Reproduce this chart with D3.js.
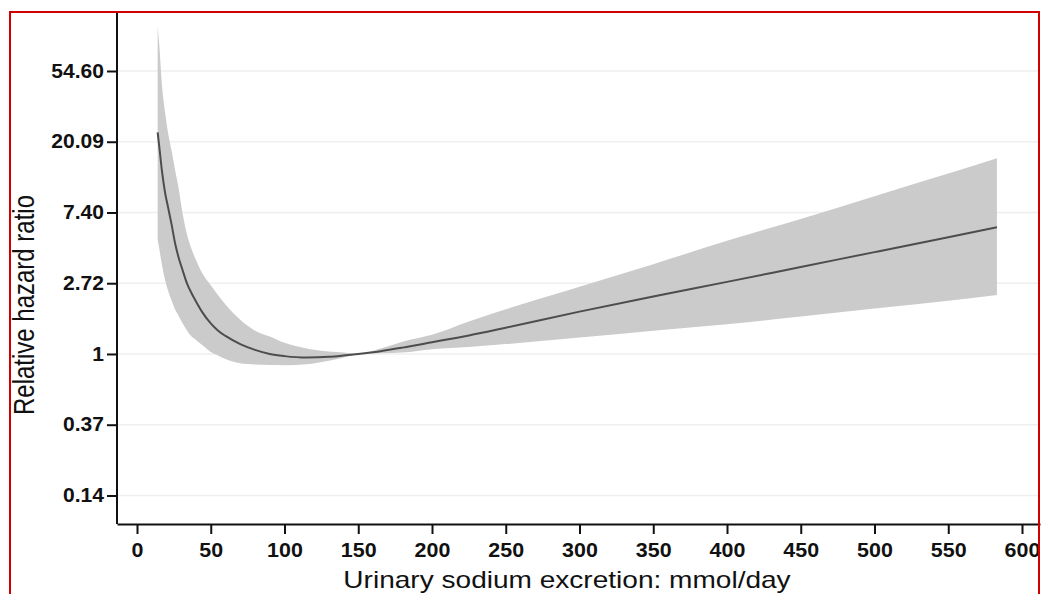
<!DOCTYPE html>
<html>
<head>
<meta charset="utf-8">
<script src="https://cdn.jsdelivr.net/npm/d3@7"></script>
<style>
  html, body { margin: 0; padding: 0; background: #fff; }
  svg { display: block; }
  text { font-family: "Liberation Sans", Arial, Helvetica, sans-serif; fill: #111; }
</style>
</head>
<body>
<svg id="chart" width="1041" height="594"></svg>
<script>
// ---- data ----
const sodium = [14, 15, 17, 19, 21, 23.5, 26, 28, 31, 34, 37, 40, 44, 50, 55, 60, 70, 80, 90, 100,
                115, 130, 140, 150, 165, 180, 200, 225, 250, 300, 350, 400, 450, 500, 550, 583];
const hazard = [22.9, 19.1, 13.1, 9.8, 8.0, 6.2, 4.7, 3.97, 3.25, 2.69, 2.36, 2.10, 1.82, 1.54, 1.39, 1.29, 1.15, 1.06, 1.0, 0.97,
                0.95, 0.96, 0.978, 1.0, 1.04, 1.094, 1.18, 1.30, 1.45, 1.82, 2.25, 2.77, 3.42, 4.22, 5.21, 5.99];
const upperCI = [102, 81, 44, 30.6, 22.9, 17.6, 13.2, 10.7, 7.2, 5.37, 4.39, 3.78, 3.16, 2.64, 2.29, 2.01, 1.62, 1.39, 1.28, 1.17,
                 1.08, 1.036, 1.02, 1.0, 1.08, 1.19, 1.31, 1.58, 1.88, 2.59, 3.56, 4.95, 6.75, 9.3, 12.8, 15.9];
const lowerCI = [5.0, 4.48, 3.49, 2.86, 2.46, 2.12, 1.86, 1.73, 1.54, 1.39, 1.28, 1.22, 1.14, 1.03, 0.98, 0.93, 0.877, 0.861, 0.855, 0.854,
                 0.865, 0.909, 0.951, 1.0, 1.01, 1.02, 1.07, 1.105, 1.15, 1.26, 1.39, 1.52, 1.70, 1.90, 2.12, 2.30];
const xTicks = [0, 50, 100, 150, 200, 250, 300, 350, 400, 450, 500, 550, 600];
const yTickValues = [0.1353, 0.3679, 1, 2.7183, 7.3891, 20.0855, 54.5982];
const yTickLabels = ["0.14", "0.37", "1", "2.72", "7.40", "20.09", "54.60"];
const xTitle = "Urinary sodium excretion: mmol/day";
const yTitle = "Relative hazard ratio";

// ---- layout ----
const svg = d3.select("#chart");
const plotLeft = 117, plotRight = 1040, plotTop = 12, plotBottom = 524;

const x = d3.scaleLinear().domain([-13.56, 612.2]).range([plotLeft, plotRight]);
const y = d3.scaleLog().domain([0.0904, 125.7]).range([plotBottom, plotTop]);

const rows = sodium.map((s, i) => ({ s, hr: hazard[i], lo: lowerCI[i], hi: upperCI[i] }));

// gridlines
svg.append("g").selectAll("line").data(yTickValues).join("line")
  .attr("x1", plotLeft).attr("x2", plotRight)
  .attr("y1", d => y(d)).attr("y2", d => y(d))
  .attr("stroke", "#efefef").attr("stroke-width", 1.5);

// CI band
svg.append("path").datum(rows)
  .attr("fill", "#cbcbcb")
  .attr("d", d3.area().x(d => x(d.s)).y0(d => y(d.lo)).y1(d => y(d.hi)).curve(d3.curveMonotoneX));

// estimate line
svg.append("path").datum(rows)
  .attr("fill", "none").attr("stroke", "#4d4d4d").attr("stroke-width", 2)
  .attr("d", d3.line().x(d => x(d.s)).y(d => y(d.hr)).curve(d3.curveMonotoneX));

// axes
const xAxis = svg.append("g").attr("transform", `translate(0,${plotBottom})`)
  .call(d3.axisBottom(x).tickValues(xTicks).tickSize(10).tickSizeOuter(0).tickPadding(9));
const yAxis = svg.append("g").attr("transform", `translate(${plotLeft},0)`)
  .call(d3.axisLeft(y).tickValues(yTickValues).tickFormat((d, i) => yTickLabels[i]).tickSize(10).tickSizeOuter(0).tickPadding(2));

[xAxis, yAxis].forEach(g => {
  g.select(".domain").attr("stroke", "#111").attr("stroke-width", 2);
  g.selectAll(".tick line").attr("stroke", "#111").attr("stroke-width", 2);
  g.selectAll(".tick text")
    .attr("fill", "#111")
    .style("font-family", '"Liberation Sans", Arial, sans-serif')
    .style("font-size", "19.5px")
    .style("font-weight", "bold");
});
xAxis.selectAll(".tick text").attr("transform", "scale(1.1,1)");
yAxis.selectAll(".tick text").attr("transform", "scale(1.08,1)");
// extend y axis line to the top of frame
yAxis.select(".domain").attr("d", `M0,${plotTop}V${plotBottom}`);

// axis titles
svg.append("text")
  .attr("transform", `translate(567,588) scale(1.22,1)`)
  .attr("text-anchor", "middle")
  .style("font-size", "23px")
  .text(xTitle);

svg.append("text")
  .attr("transform", `translate(24,305) scale(1.2,1) rotate(-90)`)
  .attr("text-anchor", "middle")
  .attr("dominant-baseline", "central")
  .style("font-size", "24px")
  .text(yTitle);

// red frame
svg.append("rect")
  .attr("x", 10).attr("y", 12).attr("width", 1029).attr("height", 600)
  .attr("fill", "none").attr("stroke", "#d00000").attr("stroke-width", 2);
</script>
</body>
</html>
